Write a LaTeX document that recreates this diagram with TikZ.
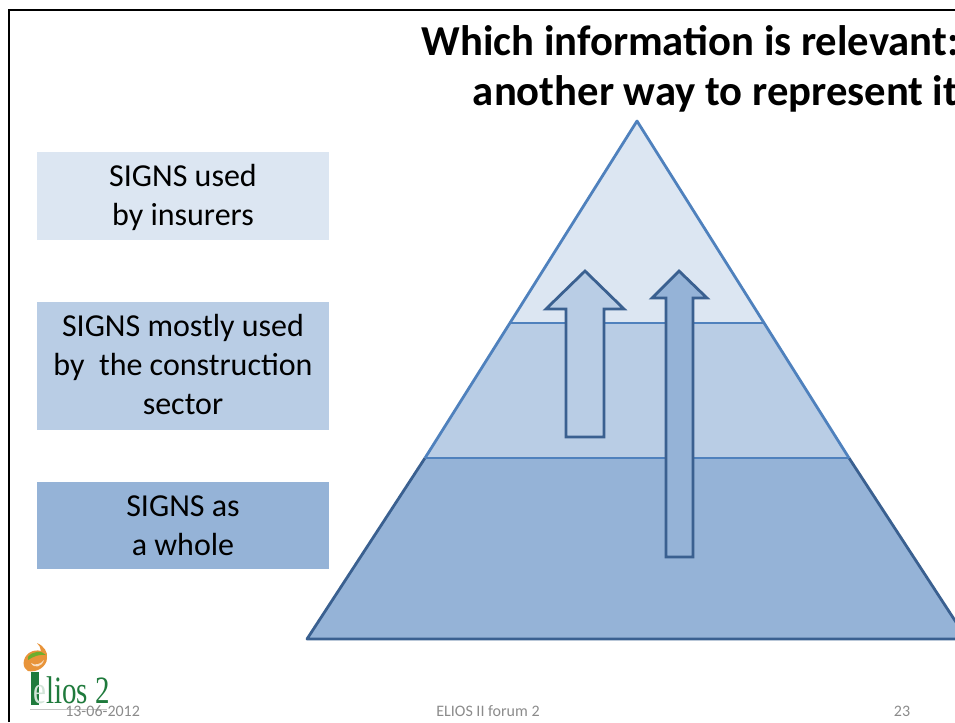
\documentclass[tikz,border=0pt]{standalone}
\usepackage{fontspec}
\setmainfont{Carlito}
\newfontfamily\logofont{Liberation Serif}
\definecolor{paleblue}{HTML}{DCE6F2}
\definecolor{midblue}{HTML}{B9CDE5}
\definecolor{deepblue}{HTML}{95B3D7}
\definecolor{edgeblue}{HTML}{4F81BD}
\definecolor{edgedark}{HTML}{3A6090}
\definecolor{footgrey}{HTML}{8B8B8B}
\definecolor{logogreen}{HTML}{1F7A3C}
\definecolor{logoorange}{HTML}{E8943A}
\definecolor{logolime}{HTML}{6DAE2E}
\tikzset{
  labelbox/.style={anchor=center,inner sep=0pt,align=center,font=\fontsize{24}{29}\selectfont,text=black},
  layer/.style={draw=edgeblue,line width=2.1pt,line join=round},
  uparrow/.style={draw=edgedark,line width=2.1pt,line join=miter},
  foot/.style={font=\fontsize{12}{14}\selectfont,text=footgrey,inner sep=0pt},
  titletext/.style={font=\bfseries\fontsize{32}{38}\selectfont,align=right,inner sep=0pt,anchor=base east}
}
\begin{document}
\begin{tikzpicture}[x=0.75pt,y=-0.75pt]
\useasboundingbox (0,0) rectangle (955,722);
\clip (0,0) rectangle (955,722);
% slide border
\draw[black,line width=2pt] (9,722) -- (9,10) -- (955,10);
% pyramid
\fill[deepblue] (425,458) -- (849,458) -- (967,639) -- (307,639) -- cycle;
\fill[midblue] (511,323) -- (763,323) -- (849,458) -- (425,458) -- cycle;
\fill[paleblue] (637,121) -- (763,323) -- (511,323) -- cycle;
\draw[layer,draw=edgedark] (425,458) -- (307,639) -- (967,639) -- (849,458);
\draw[layer] (425,458) -- (849,458);
\draw[layer] (511,323) -- (763,323);
\draw[layer] (425,458) -- (637,121) -- (849,458);
% arrows
\draw[uparrow,fill=midblue] (585,271) -- (624,309) -- (604,309) -- (604,437) -- (566,437) -- (566,309) -- (546,309) -- cycle;
\draw[uparrow,fill=deepblue] (679,271) -- (707,298) -- (693,298) -- (693,557) -- (666,557) -- (666,298) -- (652,298) -- cycle;
% label boxes
\fill[paleblue] (37,152) rectangle (329,240);
\fill[midblue] (37,302) rectangle (329,430);
\fill[deepblue] (37,482) rectangle (329,569);
\node[labelbox] (insurers) at (183,197.5) {SIGNS used\\by insurers};
\node[labelbox] (construction) at (183,364.5) {SIGNS mostly used\\by\ \ the construction\\sector};
\node[labelbox] (whole) at (183,525.5) {SIGNS as\\a whole};
% title
\node[titletext] (title) at (959,55) {Which information is relevant:};
\node[titletext] (titleb) at (958.5,105) {another way to represent it};
% logo
\fill[logoorange] (37,643) .. controls (44,646) and (48,652) .. (47,658) .. controls (47,667) and (36,673) .. (28,671) .. controls (22,668) and (22,658) .. (29,653) .. controls (33,650) and (38,650) .. (41,651) .. controls (41,648) and (39,645) .. (37,643) -- cycle;
\fill[logolime] (28,657) .. controls (32,651) and (42,650) .. (46,655) .. controls (40,654) and (34,656) .. (28,660) -- cycle;
\fill[white!70!logoorange] (31,663) .. controls (35,666) and (41,664) .. (44,660) .. controls (42,667) and (34,669) .. (31,663) -- cycle;
\fill[logogreen] (31,672) rectangle (39,705);
\fill[footgrey!50!white] (30,708.5) rectangle (107,710);
\node[inner sep=0pt,anchor=base west,text=logogreen,transform shape,xscale=0.75,font=\logofont\fontsize{29}{29}\selectfont] (logo) at (33,703) {\textcolor{white!80!logogreen}{e}lios 2};
% footer
\node[foot,anchor=base west] (date) at (65,716) {13-06-2012};
\node[foot,anchor=base] (forum) at (488,716) {ELIOS II forum 2};
\node[foot,anchor=base] (page) at (902,716) {23};
\end{tikzpicture}
\end{document}
